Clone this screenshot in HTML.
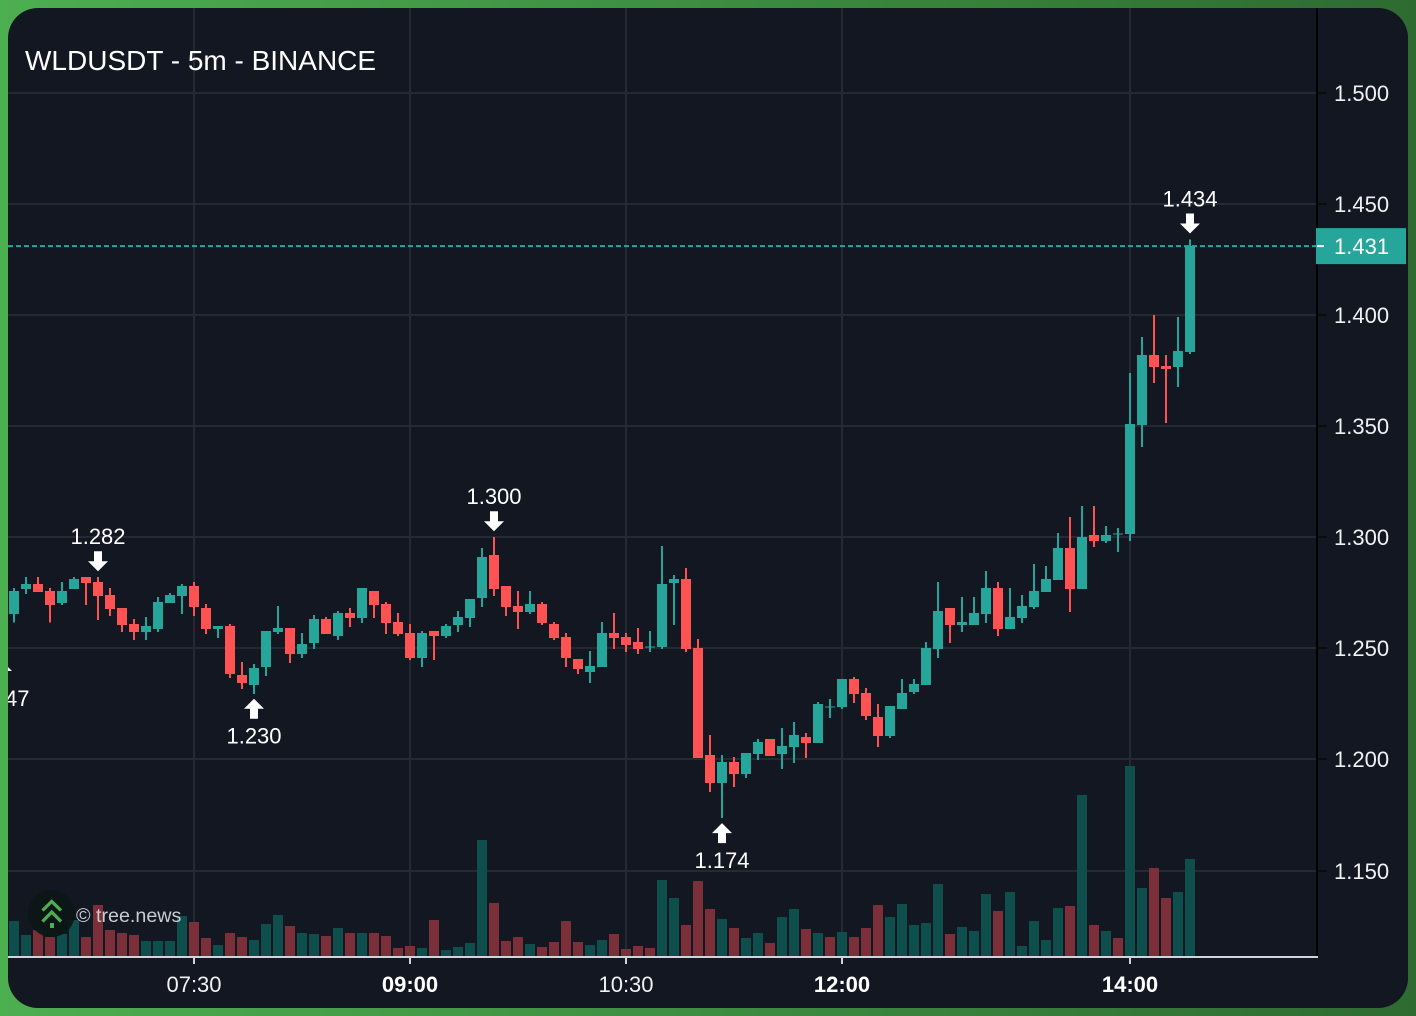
<!DOCTYPE html>
<html lang="en">
<head>
<meta charset="utf-8">
<title>WLDUSDT - 5m - BINANCE</title>
<style>
  html, body { margin: 0; padding: 0; background: #3e8f42; }
  body { width: 1416px; height: 1016px; overflow: hidden; }
  svg { display: block; font-family: "Liberation Sans", Arial, sans-serif; }
  .crisp { shape-rendering: crispEdges; }
</style>
</head>
<body>
<svg id="chart" xmlns="http://www.w3.org/2000/svg" width="1416" height="1016" viewBox="0 0 1416 1016">
  <defs>
    <linearGradient id="frameGradient" x1="0" y1="0" x2="1" y2="0">
      <stop offset="0" stop-color="#4caf50"/>
      <stop offset="1" stop-color="#2e6b31"/>
    </linearGradient>
    <clipPath id="cardClip"><rect x="8" y="8" width="1400" height="1000" rx="30" ry="30"/></clipPath>
    <clipPath id="plotClip"><rect x="8" y="8" width="1309" height="948"/></clipPath>
  </defs>
  <rect x="0" y="0" width="1416" height="1016" fill="url(#frameGradient)"/>
  <rect x="8" y="8" width="1400" height="1000" rx="30" ry="30" fill="#131722"/>
  <g clip-path="url(#cardClip)">
    <g id="grid" class="crisp"></g>
    <g id="volumes" class="crisp"></g>
    <g id="candles" class="crisp"></g>
    <g id="axes"></g>
    <g id="markers"></g>
    <g id="lastPrice"></g>
  </g>
  <text x="25" y="70" font-size="28" fill="#ffffff">WLDUSDT - 5m - BINANCE</text>
  <g>
    <circle cx="51.5" cy="913.5" r="23.5" fill="#0c1716" fill-opacity="0.92"/>
    <polyline points="42.5,910.5 51.7,901.5 61,910.5" fill="none" stroke="#4caf50" stroke-width="3.2"/>
    <polyline points="42.5,921.5 51.7,912 61,921.5" fill="none" stroke="#4caf50" stroke-width="3.2"/>
    <rect x="50" y="923" width="4" height="5" fill="#4caf50"/>
  </g>
  <text x="76" y="922" font-size="19.7" fill="#c9ccd2">© tree.news</text>
</svg>
<script>
// Candle data (WLDUSDT 5m)
const openPrices = [
  1.2654,1.2767,1.2789,1.2759,1.2703,1.2767,1.2821,1.2798,1.2740,1.2681,
  1.2609,1.2573,1.2587,1.2704,1.2735,1.2780,1.2681,1.2587,1.2600,1.2380,
  1.2335,1.2416,1.2573,1.2591,1.2474,1.2524,1.2632,1.2555,1.2659,1.2636,
  1.2758,1.2699,1.2618,1.2569,1.2456,1.2578,1.2555,1.2605,1.2636,1.2726,
  1.2920,1.2780,1.2690,1.2663,1.2699,1.2609,1.2551,1.2452,1.2393,1.2416,
  1.2569,1.2551,1.2528,1.2508,1.2506,1.2794,1.2812,1.2501,1.2020,1.1894,
  1.1988,1.1934,1.2024,1.2092,1.2024,1.2056,1.2101,1.2074,1.2238,1.2236,
  1.2362,1.2299,1.2191,1.2105,1.2227,1.2303,1.2335,1.2497,1.2681,1.2605,
  1.2605,1.2654,1.2771,1.2587,1.2636,1.2686,1.2753,1.2807,1.2951,1.2767,
  1.3010,1.2983,1.3017,1.3014,1.3505,1.3820,1.3770,1.3766,1.3833
];
const highPrices = [
  1.2771,1.2822,1.2822,1.2771,1.2798,1.2822,1.2821,1.2821,1.2771,1.2681,
  1.2632,1.2641,1.2731,1.2749,1.2789,1.2798,1.2699,1.2600,1.2609,1.2438,
  1.2429,1.2578,1.2690,1.2591,1.2569,1.2650,1.2641,1.2668,1.2681,1.2771,
  1.2758,1.2708,1.2659,1.2609,1.2578,1.2578,1.2609,1.2668,1.2722,1.2951,
  1.3000,1.2780,1.2758,1.2758,1.2708,1.2618,1.2569,1.2452,1.2488,1.2618,
  1.2659,1.2569,1.2591,1.2578,1.2960,1.2830,1.2861,1.2542,1.2110,1.2020,
  1.2011,1.2029,1.2092,1.2092,1.2141,1.2168,1.2119,1.2258,1.2272,1.2362,
  1.2371,1.2321,1.2249,1.2240,1.2362,1.2362,1.2528,1.2798,1.2681,1.2731,
  1.2731,1.2848,1.2798,1.2771,1.2740,1.2879,1.2870,1.3019,1.3091,1.3140,
  1.3140,1.3050,1.3041,1.3739,1.3901,1.4000,1.3820,1.3991,1.4340
];
const lowPrices = [
  1.2615,1.2744,1.2753,1.2615,1.2695,1.2767,1.2695,1.2627,1.2645,1.2573,
  1.2537,1.2537,1.2573,1.2704,1.2654,1.2645,1.2564,1.2546,1.2366,1.2317,
  1.2294,1.2375,1.2564,1.2434,1.2456,1.2497,1.2564,1.2537,1.2596,1.2614,
  1.2636,1.2564,1.2555,1.2447,1.2416,1.2447,1.2546,1.2573,1.2596,1.2686,
  1.2735,1.2645,1.2587,1.2654,1.2605,1.2537,1.2416,1.2384,1.2344,1.2416,
  1.2497,1.2483,1.2474,1.2483,1.2497,1.2605,1.2483,1.2006,1.1853,1.1736,
  1.1876,1.1916,1.1997,1.2015,1.1957,1.1984,1.2006,1.2074,1.2186,1.2227,
  1.2254,1.2177,1.2056,1.2096,1.2227,1.2294,1.2335,1.2456,1.2524,1.2573,
  1.2605,1.2614,1.2555,1.2587,1.2614,1.2677,1.2753,1.2807,1.2663,1.2767,
  1.2956,1.2974,1.2933,1.2983,1.3406,1.3694,1.3514,1.3676,1.3824
];
const closePrices = [
  1.2759,1.2789,1.2753,1.2695,1.2759,1.2813,1.2794,1.2735,1.2677,1.2605,
  1.2573,1.2600,1.2708,1.2740,1.2780,1.2686,1.2587,1.2600,1.2384,1.2344,
  1.2411,1.2578,1.2591,1.2474,1.2519,1.2632,1.2564,1.2659,1.2636,1.2771,
  1.2695,1.2614,1.2564,1.2456,1.2569,1.2555,1.2600,1.2641,1.2722,1.2911,
  1.2767,1.2686,1.2663,1.2699,1.2614,1.2546,1.2456,1.2407,1.2420,1.2569,
  1.2546,1.2515,1.2497,1.2508,1.2789,1.2812,1.2497,1.2006,1.1894,1.1988,
  1.1934,1.2029,1.2078,1.2015,1.2060,1.2110,1.2074,1.2249,1.2238,1.2362,
  1.2294,1.2195,1.2105,1.2240,1.2299,1.2339,1.2501,1.2668,1.2605,1.2618,
  1.2659,1.2771,1.2587,1.2641,1.2690,1.2758,1.2812,1.2951,1.2767,1.3000,
  1.2983,1.3010,1.3017,1.3509,1.3820,1.3766,1.3757,1.3838,1.4310
];
const volumes = [
  35,21,26,19,22,36,19,51,26,23,
  21,15,15,15,40,34,18,11,23,19,
  16,32,41,30,23,22,20,28,23,23,
  23,20,8,10,8,36,6,9,13,116,
  53,15,19,12,9,14,35,14,11,16,
  22,7,10,8,76,58,31,75,47,37,
  28,18,23,13,39,47,27,23,19,24,
  19,28,51,39,52,31,33,72,22,29,
  25,62,45,64,10,35,16,48,50,161,
  31,25,18,190,68,88,58,64,97
];
const priceTicks = [1.5, 1.45, 1.4, 1.35, 1.3, 1.25, 1.2, 1.15];
const timeTickLabels = ["07:30", "09:00", "10:30", "12:00", "14:00"];
const timeTickBars = [15, 33, 51, 69, 93];
const timeTickBold = [false, true, false, true, true];
const markerBars = [-1, 7, 20, 40, 59, 98];
const markerKinds = ["up", "down", "up", "down", "up", "down"];
const markerValues = [1.247, 1.282, 1.230, 1.300, 1.174, 1.434];

const NS = "http://www.w3.org/2000/svg";
const UP = "#26a69a", DOWN = "#ff5252", VOL_UP = "#0e4f4d", VOL_DOWN = "#7b2f39";
const GRID = "#252933", AXIS = "#d1d4dc", TEXT = "#f0f1f4", PLOT_LEFT = 8, PLOT_RIGHT = 1317, PLOT_BOTTOM = 956, PLOT_TOP = 8;

function xAt(i) { return 14 + 12 * i; }
function yAt(p) { return 537.2 + (1.3 - p) * 2222; }
function volY(v) { return 956 - v; }

function make(tag, parent, attrs) {
  const el = document.createElementNS(NS, tag);
  for (const k in attrs) el.setAttribute(k, attrs[k]);
  parent.appendChild(el);
  return el;
}

const gridG = document.getElementById("grid");
const volG = document.getElementById("volumes");
const candleG = document.getElementById("candles");
const axesG = document.getElementById("axes");
const markersG = document.getElementById("markers");
const lastG = document.getElementById("lastPrice");

// Grid + price axis
priceTicks.forEach(function (p) {
  const y = yAt(p);
  const line = make("rect", gridG, { x: PLOT_LEFT, y: Math.round(y) - 1, width: PLOT_RIGHT - PLOT_LEFT, height: 2, fill: GRID });
  
  
  const tick = make("rect", axesG, { x: 1317, y: Math.round(y) - 1, width: 10, height: 2, fill: "#0b0c10" });
  
  
  const label = make("text", axesG, { x: 1334, y: Math.round(y) + 8, "font-size": 22, fill: TEXT });
  
  
  label.textContent = p.toFixed(3);
});

timeTickBars.forEach(function (b, k) {
  const x = xAt(b);
  const line = make("rect", gridG, { x: x - 1, y: PLOT_TOP, width: 2, height: PLOT_BOTTOM - PLOT_TOP, fill: GRID });
  
  
  const tick = make("rect", axesG, { x: x - 1, y: 958, width: 2, height: 6, fill: AXIS });
  
  
  const label = make("text", axesG, { x: x, y: 992, "font-size": 22, "text-anchor": "middle", fill: timeTickBold[k] ? "#ffffff" : TEXT, "font-weight": timeTickBold[k] ? "700" : "400" });
  
  
  label.textContent = timeTickLabels[k];
});

// Axis lines
const yAxisLine = make("rect", axesG, { x: 1316, y: PLOT_TOP, width: 2, height: 950, fill: "#000000" });


const xAxisLine = make("rect", axesG, { x: PLOT_LEFT, y: 956, width: 1310, height: 2, fill: AXIS });



// Volume bars and candles
closePrices.forEach(function (c, i) {
  const o = openPrices[i], h = highPrices[i], l = lowPrices[i], x = xAt(i);
  const vTop = volY(volumes[i]);
  const bar = make("rect", volG, { x: x - 5, y: vTop, width: 10, height: 956 - vTop, fill: c > o ? VOL_UP : VOL_DOWN });
  
  

  const colour = c >= o ? UP : DOWN;
  const wick = make("rect", candleG, { x: x - 1, y: yAt(h), width: 2, height: yAt(l) - yAt(h), fill: colour });
  
  
  const top = yAt(Math.max(o, c));
  const bodyH = Math.max(1, yAt(Math.min(o, c)) - top);
  const body = make("rect", candleG, { x: x - 5, y: top, width: 10, height: bodyH, fill: colour });
  
  
});

// Swing high / low markers
markerBars.forEach(function (b, k) {
  const x = xAt(b), value = markerValues[k], y = yAt(value), dir = markerKinds[k];
  let pts, labelY;
  if (dir === "down") {
    const tip = y - 6;
    pts = [[x, tip], [x - 10, tip - 10], [x - 4, tip - 10], [x - 4, tip - 20], [x + 4, tip - 20], [x + 4, tip - 10], [x + 10, tip - 10]];
    labelY = tip - 27;
  } else {
    const tip = y + 6;
    pts = [[x, tip], [x + 10, tip + 10], [x + 4, tip + 10], [x + 4, tip + 20], [x - 4, tip + 20], [x - 4, tip + 10], [x - 10, tip + 10]];
    labelY = tip + 45;
  }
  const arrow = make("polygon", markersG, { points: pts.map(function (p) { return p.join(","); }).join(" "), fill: "#ffffff" });
  
  
  const label = make("text", markersG, { x: x, y: labelY, "font-size": 22, "text-anchor": "middle", fill: "#ffffff" });
  
  
  label.textContent = value.toFixed(3);
});

// Last price line and label
const lastValue = closePrices[closePrices.length - 1];
const lastY = yAt(lastValue);
const dash = make("line", lastG, { x1: PLOT_LEFT, x2: 1316, y1: lastY, y2: lastY, stroke: UP, "stroke-width": 2, "stroke-dasharray": "5 3" });


const badge = make("rect", lastG, { x: 1316, y: lastY - 18, width: 90, height: 36, fill: UP });


const badgeTick = make("rect", lastG, { x: 1317, y: lastY - 1, width: 7, height: 2, fill: "#e8f3f2" });


const badgeText = make("text", lastG, { x: 1334, y: Math.round(lastY) + 8, "font-size": 22, fill: "#ffffff" });


badgeText.textContent = lastValue.toFixed(3);
</script>
</body>
</html>
